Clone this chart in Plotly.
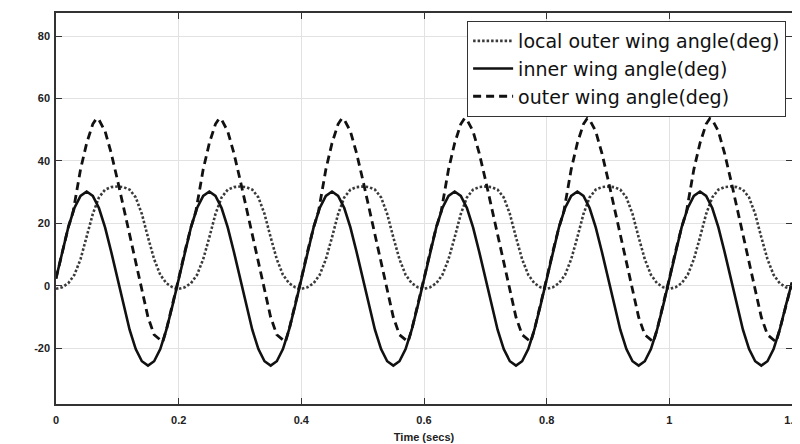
import plotly.graph_objects as go

# ---- data ----
time_s = [0.00, 0.01, 0.02, 0.03, 0.04, 0.05, 0.06, 0.07, 0.08, 0.09,
          0.10, 0.11, 0.12, 0.13, 0.14, 0.15, 0.16, 0.17, 0.18, 0.19,
          0.20, 0.21, 0.22, 0.23, 0.24, 0.25, 0.26, 0.27, 0.28, 0.29,
          0.30, 0.31, 0.32, 0.33, 0.34, 0.35, 0.36, 0.37, 0.38, 0.39,
          0.40, 0.41, 0.42, 0.43, 0.44, 0.45, 0.46, 0.47, 0.48, 0.49,
          0.50, 0.51, 0.52, 0.53, 0.54, 0.55, 0.56, 0.57, 0.58, 0.59,
          0.60, 0.61, 0.62, 0.63, 0.64, 0.65, 0.66, 0.67, 0.68, 0.69,
          0.70, 0.71, 0.72, 0.73, 0.74, 0.75, 0.76, 0.77, 0.78, 0.79,
          0.80, 0.81, 0.82, 0.83, 0.84, 0.85, 0.86, 0.87, 0.88, 0.89,
          0.90, 0.91, 0.92, 0.93, 0.94, 0.95, 0.96, 0.97, 0.98, 0.99,
          1.00, 1.01, 1.02, 1.03, 1.04, 1.05, 1.06, 1.07, 1.08, 1.09,
          1.10, 1.11, 1.12, 1.13, 1.14, 1.15, 1.16, 1.17, 1.18, 1.19,
          1.20]

inner_wing = [2.3, 10.9, 18.7, 24.9, 28.8, 30.2, 28.8, 24.9, 18.7, 10.9,
              2.3, -6.3, -14.1, -20.3, -24.2, -25.6, -24.2, -20.3, -14.1, -6.3,
              2.3, 10.9, 18.7, 24.9, 28.8, 30.2, 28.8, 24.9, 18.7, 10.9,
              2.3, -6.3, -14.1, -20.3, -24.2, -25.6, -24.2, -20.3, -14.1, -6.3,
              2.3, 10.9, 18.7, 24.9, 28.8, 30.2, 28.8, 24.9, 18.7, 10.9,
              2.3, -6.3, -14.1, -20.3, -24.2, -25.6, -24.2, -20.3, -14.1, -6.3,
              2.3, 10.9, 18.7, 24.9, 28.8, 30.2, 28.8, 24.9, 18.7, 10.9,
              2.3, -6.3, -14.1, -20.3, -24.2, -25.6, -24.2, -20.3, -14.1, -6.3,
              2.3, 10.9, 18.7, 24.9, 28.8, 30.2, 28.8, 24.9, 18.7, 10.9,
              2.3, -6.3, -14.1, -20.3, -24.2, -25.6, -24.2, -20.3, -14.1, -6.3,
              2.3, 10.9, 18.7, 24.9, 28.8, 30.2, 28.8, 24.9, 18.7, 10.9,
              2.3, -6.3, -14.1, -20.3, -24.2, -25.6, -24.2, -20.3, -14.1, -6.3,
              1.0]

local_outer_wing = [-1.0, -0.5, 0.8, 3.5, 8.5, 15.5, 23.0, 28.3, 30.8, 31.6,
                    31.8, 31.6, 30.8, 28.3, 23.0, 15.5, 8.5, 3.5, 0.8, -0.5,
                    -1.0, -0.5, 0.8, 3.5, 8.5, 15.5, 23.0, 28.3, 30.8, 31.6,
                    31.8, 31.6, 30.8, 28.3, 23.0, 15.5, 8.5, 3.5, 0.8, -0.5,
                    -1.0, -0.5, 0.8, 3.5, 8.5, 15.5, 23.0, 28.3, 30.8, 31.6,
                    31.8, 31.6, 30.8, 28.3, 23.0, 15.5, 8.5, 3.5, 0.8, -0.5,
                    -1.0, -0.5, 0.8, 3.5, 8.5, 15.5, 23.0, 28.3, 30.8, 31.6,
                    31.8, 31.6, 30.8, 28.3, 23.0, 15.5, 8.5, 3.5, 0.8, -0.5,
                    -1.0, -0.5, 0.8, 3.5, 8.5, 15.5, 23.0, 28.3, 30.8, 31.6,
                    31.8, 31.6, 30.8, 28.3, 23.0, 15.5, 8.5, 3.5, 0.8, -0.5,
                    -1.0, -0.5, 0.8, 3.5, 8.5, 15.5, 23.0, 28.3, 30.8, 31.6,
                    31.8, 31.6, 30.8, 28.3, 23.0, 15.5, 8.5, 3.5, 0.8, -0.5,
                    -1.0]

outer_time_s = [0.00, 0.01, 0.02, 0.028, 0.032, 0.04, 0.05, 0.06, 0.066, 0.07, 0.08, 0.09,
                0.10, 0.11, 0.12, 0.13, 0.14, 0.15, 0.16, 0.168, 0.174, 0.18, 0.19,
                0.20, 0.21, 0.22, 0.228, 0.232, 0.24, 0.25, 0.26, 0.266, 0.27, 0.28, 0.29,
                0.30, 0.31, 0.32, 0.33, 0.34, 0.35, 0.36, 0.368, 0.374, 0.38, 0.39,
                0.40, 0.41, 0.42, 0.428, 0.432, 0.44, 0.45, 0.46, 0.466, 0.47, 0.48, 0.49,
                0.50, 0.51, 0.52, 0.53, 0.54, 0.55, 0.56, 0.568, 0.574, 0.58, 0.59,
                0.60, 0.61, 0.62, 0.628, 0.632, 0.64, 0.65, 0.66, 0.666, 0.67, 0.68, 0.69,
                0.70, 0.71, 0.72, 0.73, 0.74, 0.75, 0.76, 0.768, 0.774, 0.78, 0.79,
                0.80, 0.81, 0.82, 0.828, 0.832, 0.84, 0.85, 0.86, 0.866, 0.87, 0.88, 0.89,
                0.90, 0.91, 0.92, 0.93, 0.94, 0.95, 0.96, 0.968, 0.974, 0.98, 0.99,
                1.00, 1.01, 1.02, 1.028, 1.032, 1.04, 1.05, 1.06, 1.066, 1.07, 1.08, 1.09,
                1.10, 1.11, 1.12, 1.13, 1.14, 1.15, 1.16, 1.168, 1.174, 1.18, 1.19,
                1.20]

outer_wing = [2.3, 10.9, 18.7, 23.8, 28.0, 37.3, 45.7, 51.8, 53.6, 53.2, 49.5, 42.5,
              34.1, 25.3, 16.7, 8.0, -1.2, -10.1, -15.7, -17.2, -18.0, -14.1, -6.3,
              2.3, 10.9, 18.7, 23.8, 28.0, 37.3, 45.7, 51.8, 53.6, 53.2, 49.5, 42.5,
              34.1, 25.3, 16.7, 8.0, -1.2, -10.1, -15.7, -17.2, -18.0, -14.1, -6.3,
              2.3, 10.9, 18.7, 23.8, 28.0, 37.3, 45.7, 51.8, 53.6, 53.2, 49.5, 42.5,
              34.1, 25.3, 16.7, 8.0, -1.2, -10.1, -15.7, -17.2, -18.0, -14.1, -6.3,
              2.3, 10.9, 18.7, 23.8, 28.0, 37.3, 45.7, 51.8, 53.6, 53.2, 49.5, 42.5,
              34.1, 25.3, 16.7, 8.0, -1.2, -10.1, -15.7, -17.2, -18.0, -14.1, -6.3,
              2.3, 10.9, 18.7, 23.8, 28.0, 37.3, 45.7, 51.8, 53.6, 53.2, 49.5, 42.5,
              34.1, 25.3, 16.7, 8.0, -1.2, -10.1, -15.7, -17.2, -18.0, -14.1, -6.3,
              2.3, 10.9, 18.7, 23.8, 28.0, 37.3, 45.7, 51.8, 53.6, 53.2, 49.5, 42.5,
              34.1, 25.3, 16.7, 8.0, -1.2, -10.1, -15.7, -17.2, -18.0, -14.1, -6.3,
              1.0]

x_tick_vals = [0, 0.2, 0.4, 0.6, 0.8, 1.0, 1.2]
x_tick_text = ["0", "0.2", "0.4", "0.6", "0.8", "1", "1.2"]
y_tick_vals = [-20, 0, 20, 40, 60, 80]
y_tick_text = ["-20", "0", "20", "40", "60", "80"]

names = ["local outer wing angle(deg)", "inner wing angle(deg)", "outer wing angle(deg)"]

# ---- figure ----
# The page body keeps its default 8px margin, so the figure is sized to
# 792x436 and fills the 800x444 window exactly.
FONT = "Liberation Sans, Arial, sans-serif"
LEGEND_FONT = "DejaVu Sans, Liberation Sans, sans-serif"
fig = go.Figure()
fig.add_trace(go.Scatter(x=time_s, y=local_outer_wing, mode="lines", name=names[0],
                         line=dict(color="#3a3a3a", width=2.6, dash="2.5px,2px")))
fig.add_trace(go.Scatter(x=time_s, y=inner_wing, mode="lines", name=names[1],
                         line=dict(color="#111111", width=2.6)))
fig.add_trace(go.Scatter(x=outer_time_s, y=outer_wing, mode="lines", name=names[2],
                         line=dict(color="#111111", width=2.8, dash="8px,5px")))

axis_common = dict(
    automargin=False,
    showgrid=True, gridcolor="#e2e2e2", gridwidth=1,
    showline=True, linecolor="#333333", linewidth=1.5, mirror="ticks",
    ticks="inside", ticklen=6, tickcolor="#333333", tickwidth=1.2,
    zeroline=False,
    tickfont=dict(family=FONT, size=11, color="#222222", weight="bold"),
)

fig.update_layout(
    template="none",
    width=792, height=436,
    margin=dict(l=48, r=8, t=5, b=40, autoexpand=False),
    paper_bgcolor="white", plot_bgcolor="white",
    showlegend=True,
    legend=dict(x=0.992, xanchor="right", y=0.9795, yanchor="top",
                bgcolor="white", bordercolor="#333333", borderwidth=1,
                font=dict(family=LEGEND_FONT, size=19, color="#111111"),
                itemwidth=40, tracegroupgap=0),
    xaxis=dict(range=[0, 1.2], tickvals=x_tick_vals, ticktext=x_tick_text,
               ticklabelstandoff=5,
               title=dict(text="Time (secs)", standoff=8,
                          font=dict(family=FONT, size=11, color="#222222", weight="bold")),
               **axis_common),
    yaxis=dict(range=[-37.9, 87.4], tickvals=y_tick_vals, ticktext=y_tick_text,
               ticklabelstandoff=2,
               **axis_common),
)

fig.write_html("out.html")
